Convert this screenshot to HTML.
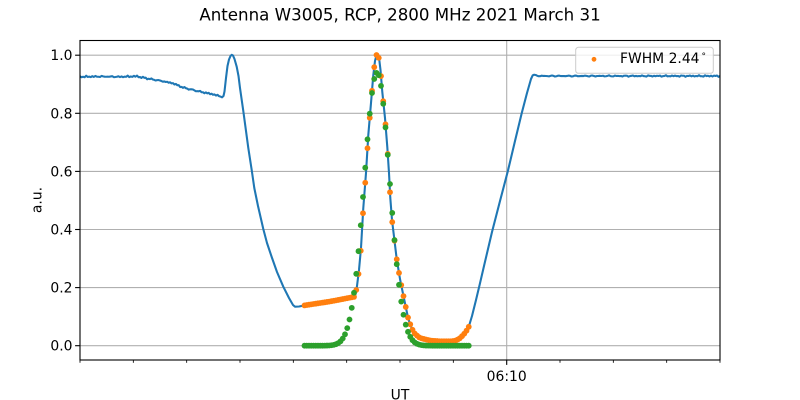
<!DOCTYPE html>
<html>
<head>
<meta charset="utf-8">
<style>
  html, body { margin: 0; padding: 0; background: #ffffff; }
  svg { display: block; }
  text { font-family: "DejaVu Sans", "Liberation Sans", sans-serif; fill: #000; }
</style>
</head>
<body>
<svg id="chart" width="800" height="400" viewBox="0 0 800 400" xmlns="http://www.w3.org/2000/svg">
  <rect x="0" y="0" width="800" height="400" fill="#ffffff"/>
  <!-- title -->
  <text x="400" y="20.5" font-size="16.67" text-anchor="middle">Antenna W3005, RCP, 2800 MHz 2021 March 31</text>

  <!-- grid -->
  <g stroke="#b0b0b0" stroke-width="1.1" fill="none">
    <line x1="80" y1="345.7" x2="720" y2="345.7"/>
    <line x1="80" y1="287.6" x2="720" y2="287.6"/>
    <line x1="80" y1="229.5" x2="720" y2="229.5"/>
    <line x1="80" y1="171.4" x2="720" y2="171.4"/>
    <line x1="80" y1="113.3" x2="720" y2="113.3"/>
    <line x1="80" y1="55.2" x2="720" y2="55.2"/>
    <line x1="506.7" y1="40.5" x2="506.7" y2="360"/>
  </g>

  <g id="series"></g>

  <!-- spines -->
  <rect x="80" y="40.5" width="640" height="319.5" fill="none" stroke="#000" stroke-width="1.1"/>

  <!-- y ticks -->
  <g stroke="#000" stroke-width="1.1">
    <line x1="75.1" y1="345.7" x2="80" y2="345.7"/>
    <line x1="75.1" y1="287.6" x2="80" y2="287.6"/>
    <line x1="75.1" y1="229.5" x2="80" y2="229.5"/>
    <line x1="75.1" y1="171.4" x2="80" y2="171.4"/>
    <line x1="75.1" y1="113.3" x2="80" y2="113.3"/>
    <line x1="75.1" y1="55.2" x2="80" y2="55.2"/>
  </g>
  <g font-size="13.9" text-anchor="end">
    <text x="72.5" y="350.7">0.0</text>
    <text x="72.5" y="292.6">0.2</text>
    <text x="72.5" y="234.5">0.4</text>
    <text x="72.5" y="176.4">0.6</text>
    <text x="72.5" y="118.3">0.8</text>
    <text x="72.5" y="60.2">1.0</text>
  </g>

  <!-- x ticks -->
  <g id="xticks" stroke="#000" stroke-width="0.85"></g>
  <line x1="506.7" y1="360" x2="506.7" y2="364.9" stroke="#000" stroke-width="1.1"/>
  <text x="506.7" y="381" font-size="13.9" text-anchor="middle">06:10</text>

  <!-- axis labels -->
  <text x="400" y="399.5" font-size="13.9" text-anchor="middle">UT</text>
  <text transform="translate(41.5,200) rotate(-90)" font-size="13.9" text-anchor="middle">a.u.</text>

  <!-- legend -->
  <rect x="575.7" y="47.3" width="137.6" height="26" rx="2.8" ry="2.8" fill="#ffffff" fill-opacity="0.8" stroke="#cccccc" stroke-width="1"/>
  <circle cx="594" cy="59.3" r="2.4" fill="#ff7f0e"/>
  <text x="620" y="63" font-size="13.9">FWHM 2.44<tspan font-size="9" dx="2" dy="-4">°</tspan></text>
</svg>

<script>
(function(){
  var NS = "http://www.w3.org/2000/svg";
  var K = [[80,76.8],[100,76.5],[120,76.8],[137,76.3],[140,77],[150,79],[160,80.7],[173,83.3],[183,87.5],[193,90],[203,92.3],[213,94.3],[219,96],[222,97.3],
  [223.5,96],[224.5,91.5],[226,78],[227.5,66],[229,59.5],[230.5,56],[231.7,54.8],[233,55.5],[234.5,59],[236.7,66.7],[238.5,76],[240,88],[243.3,111],[248.3,148],[251.7,170],[254.3,188],[258,206],[263.3,229],[267,243],[271.7,257],[277,272],[283.3,286.7],[289,298],[293,305],[295,306.7],[299,306.5],[305,305.3],[330,301.5],[355,296.7],
  [357,286],[359,270],[361,248],[363.3,208],[366,173],[368.3,135],[371,103],[373.3,75],[375,61],[376.5,55],[378,55],[379.3,60],[380.5,70],[382.3,92],[385,118],[387.3,147],[389,173],[390.3,198],[392,220],[394.3,239],[396.7,259],[400,279],[404.3,300],[408.3,319],[412,329],[415,334],[420,338],[430,340.5],[440,341.3],[450,341.3],[455,340.8],[459,339],[463.3,335],[468.3,328.3],
  [472,316],[476,300],[480,283.3],[484,266],[488,249],[492,232],[500,201],[507.7,171.7],[515,141],[521.7,113.3],[527,93],[531,79],[532.7,75],[540,76],[720,76]];

  function interp(x){
    for (var i=0;i<K.length-1;i++){
      var a=K[i], b=K[i+1];
      if (x>=a[0] && x<=b[0]){
        var t=(x-a[0])/(b[0]-a[0]);
        return a[1]+t*(b[1]-a[1]);
      }
    }
    return K[K.length-1][1];
  }
  function jit(x){
    return 0.45*Math.sin(x*2.1)+0.3*Math.sin(x*0.77+1)+0.25*Math.sin(x*5.3+0.4);
  }

  var pts=[];
  for (var i=0;i<K.length-1;i++){
    var a=K[i], b=K[i+1];
    var noisy = (b[0]<=222.5) || (a[0]>=532.7);
    if (noisy){
      var n=Math.max(1,Math.round((b[0]-a[0])/1.5));
      for (var k=0;k<n;k++){
        var x=a[0]+(b[0]-a[0])*k/n;
        var y=a[1]+(b[1]-a[1])*k/n + jit(x);
        pts.push([x,y]);
      }
    } else {
      pts.push([a[0],a[1]]);
    }
  }
  pts.push(K[K.length-1]);
  var d="M"+pts.map(function(p){return p[0].toFixed(2)+","+p[1].toFixed(2);}).join(" L");
  var g=document.getElementById("series");
  var path=document.createElementNS(NS,"path");
  path.setAttribute("d",d);
  path.setAttribute("fill","none");
  path.setAttribute("stroke","#1f77b4");
  path.setAttribute("stroke-width","2.08");
  path.setAttribute("stroke-linejoin","round");
  g.appendChild(path);

  var x0=304.5, step=2.25, N=74;
  var og=document.createElementNS(NS,"g"); og.setAttribute("fill","#ff7f0e");
  var gg=document.createElementNS(NS,"g"); gg.setAttribute("fill","#2ca02c");
  for (var j=0;j<N;j++){
    var x=x0+j*step;
    var yo=interp(x);
    var c=document.createElementNS(NS,"circle");
    c.setAttribute("cx",x.toFixed(2)); c.setAttribute("cy",yo.toFixed(2)); c.setAttribute("r","2.9");
    og.appendChild(c);
    var gv=0.94*Math.exp(-Math.pow(x-377,2)/(2*12.7*12.7));
    var yg=345.7-gv*290.5;
    var c2=document.createElementNS(NS,"circle");
    c2.setAttribute("cx",x.toFixed(2)); c2.setAttribute("cy",yg.toFixed(2)); c2.setAttribute("r","2.9");
    gg.appendChild(c2);
  }
  g.appendChild(og);
  g.appendChild(gg);

  var xt=document.getElementById("xticks");
  for (var m=0;m<=12;m++){
    if (m===8) continue;
    var xx=80+m*640/12;
    var l=document.createElementNS(NS,"line");
    l.setAttribute("x1",xx); l.setAttribute("x2",xx);
    l.setAttribute("y1","360"); l.setAttribute("y2","362.8");
    xt.appendChild(l);
  }
})();
</script>
</body>
</html>
